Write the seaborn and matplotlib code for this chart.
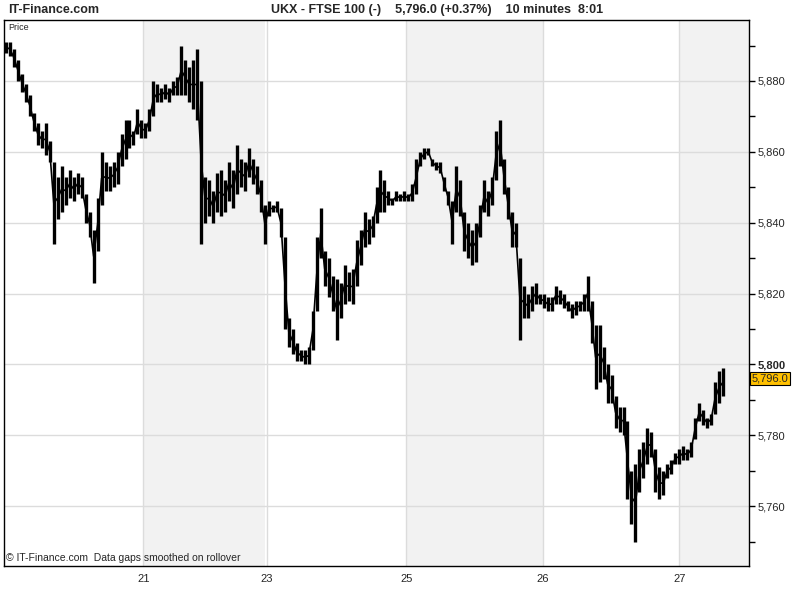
import numpy as np
import pandas as pd
import matplotlib
matplotlib.use("Agg")
import matplotlib.pyplot as plt
import seaborn as sns

# === DATA (10-minute bars) ===
highs = [5891, 5891, 5889, 5886, 5882, 5879, 5876, 5871, 5868, 5866,
         5868, 5863, 5857, 5853, 5856, 5853, 5855, 5853, 5854, 5853,
         5848, 5843, 5838, 5847, 5860, 5857, 5856, 5857, 5860, 5865,
         5869, 5869, 5866, 5872, 5869, 5868, 5872, 5880, 5879, 5878,
         5879, 5878, 5880, 5881, 5890, 5886, 5884, 5886, 5889, 5880,
         5853, 5852, 5849, 5854, 5855, 5852, 5857, 5855, 5862, 5858,
         5857, 5861, 5858, 5856, 5852, 5845, 5846, 5845, 5846, 5844,
         5836, 5813, 5810, 5806, 5804, 5804, 5805, 5815, 5836, 5844,
         5832, 5830, 5825, 5824, 5823, 5828, 5826, 5827, 5835, 5838,
         5843, 5841, 5842, 5850, 5855, 5852, 5849, 5847, 5849, 5848,
         5849, 5848, 5851, 5858, 5860, 5861, 5861, 5858, 5857, 5857,
         5853, 5849, 5846, 5856, 5852, 5843, 5840, 5838, 5840, 5845,
         5852, 5849, 5853, 5866, 5869, 5858, 5850, 5843, 5840, 5830,
         5822, 5820, 5822, 5823, 5820, 5820, 5819, 5819, 5822, 5821,
         5820, 5818, 5817, 5818, 5818, 5820, 5825, 5818, 5811, 5811,
         5805, 5800, 5797, 5791, 5788, 5788, 5784, 5770, 5772, 5776,
         5778, 5782, 5781, 5776, 5771, 5770, 5772, 5773, 5775, 5776,
         5777, 5776, 5778, 5785, 5789, 5787, 5785, 5786, 5795, 5798,
         5799]
lows = [5888, 5887, 5884, 5880, 5877, 5874, 5870, 5866, 5862, 5861,
        5859, 5857, 5834, 5841, 5843, 5845, 5847, 5846, 5848, 5847,
        5840, 5836, 5823, 5832, 5845, 5849, 5849, 5850, 5851, 5856,
        5858, 5861, 5862, 5865, 5864, 5864, 5866, 5870, 5874, 5874,
        5875, 5874, 5876, 5876, 5876, 5876, 5874, 5872, 5869, 5834,
        5840, 5842, 5840, 5843, 5842, 5843, 5846, 5844, 5848, 5850,
        5849, 5853, 5851, 5848, 5843, 5834, 5842, 5843, 5843, 5836,
        5810, 5805, 5803, 5801, 5801, 5800, 5800, 5804, 5815, 5830,
        5822, 5819, 5815, 5807, 5813, 5817, 5818, 5817, 5822, 5828,
        5833, 5834, 5836, 5840, 5843, 5843, 5845, 5845, 5846, 5846,
        5846, 5846, 5846, 5848, 5856, 5858, 5859, 5856, 5855, 5854,
        5849, 5845, 5834, 5843, 5842, 5832, 5830, 5828, 5829, 5836,
        5843, 5842, 5845, 5852, 5856, 5848, 5841, 5833, 5833, 5807,
        5813, 5813, 5815, 5817, 5817, 5816, 5815, 5815, 5817, 5817,
        5816, 5815, 5813, 5814, 5815, 5815, 5815, 5806, 5793, 5795,
        5796, 5789, 5789, 5782, 5781, 5780, 5762, 5755, 5750, 5764,
        5768, 5772, 5774, 5764, 5762, 5763, 5768, 5769, 5772, 5772,
        5773, 5773, 5774, 5779, 5784, 5783, 5782, 5783, 5786, 5789,
        5791]
last_price = 5796.0

day_labels = ["21", "23", "25", "26", "27"]
day_starts = [34.5, 65.5, 100.5, 134.75, 169]      # bar index where each day starts
shaded_days = [(34.5, 65), (100.5, 134.75), (169, 186.5)]
y_ticks = [5760, 5780, 5800, 5820, 5840, 5860, 5880]

df = pd.DataFrame({"bar": np.arange(len(highs)), "high": highs, "low": lows})
df["mid"] = (df["high"] + df["low"]) / 2

# === FIGURE ===
sns.set_theme(style="white")
plt.rcParams["font.family"] = ["Liberation Sans", "DejaVu Sans"]
narrow = ["Liberation Sans Narrow", "Liberation Sans", "DejaVu Sans"]

fig = plt.figure(figsize=(8, 6), dpi=100)
ax = fig.add_axes([4 / 800, 34 / 600, 745 / 800, 546 / 600])
ax.set_facecolor("white")

for a, b in shaded_days:
    ax.axvspan(a, b, color="#f2f2f2", lw=0, zorder=0)
for x in day_starts:
    ax.axvline(x, color="#dcdcdc", lw=1, zorder=0.5)
for y in y_ticks:
    ax.axhline(y, color="#dcdcdc", lw=1, zorder=0.5)

ax.vlines(df["bar"], df["low"], df["high"], color="black", lw=2.4, zorder=3)
sns.lineplot(data=df, x="bar", y="mid", color="black", lw=1.2, ax=ax, zorder=3)

ax.set_xlim(-0.5, 186.5)
ax.set_ylim(5743.1, 5897.2)

# right-hand price axis
ax.yaxis.tick_right()
ax.set_yticks(y_ticks)
ax.set_yticks(np.arange(5750, 5900, 10), minor=True)
ax.set_yticklabels([f"{v:,}" for v in y_ticks], fontsize=8)
for lab in ax.get_yticklabels():
    if lab.get_text() == "5,800":
        lab.set_fontweight("bold")
ax.tick_params(axis="y", which="both", direction="out", length=4, width=1,
               color="black", pad=2, left=False, right=True)
ax.set_xticks(day_starts)
ax.set_xticklabels(day_labels, fontsize=8)
ax.tick_params(axis="x", length=0, pad=6)
ax.set_xlabel("")
ax.set_ylabel("")
for s in ax.spines.values():
    s.set_color("black")
    s.set_linewidth(1)

# last price box
ax.text(1.003, (last_price - 5743.1) / (5897.2 - 5743.1), f"{last_price:,.1f}",
        transform=ax.transAxes, ha="left", va="center", fontsize=8,
        bbox=dict(boxstyle="square,pad=0.15", fc="#ffc000", ec="black", lw=0.8))

# texts
ax.text(0.006, 0.995, "Price", transform=ax.transAxes, ha="left", va="top", fontsize=6.5)
ax.text(0.003, 0.006, "© IT-Finance.com  Data gaps smoothed on rollover",
        transform=ax.transAxes, ha="left", va="bottom", fontsize=7.5)
fig.text(8 / 800, 1 - 10 / 600, "IT-Finance.com", ha="left", va="center",
         fontsize=9, fontweight="bold", family=narrow)
fig.text(437 / 800, 1 - 10 / 600,
         "UKX - FTSE 100 (-)    5,796.0 (+0.37%)    10 minutes  8:01",
         ha="center", va="center", fontsize=9, fontweight="bold", family=narrow)

fig.savefig("out.png", dpi=100)
